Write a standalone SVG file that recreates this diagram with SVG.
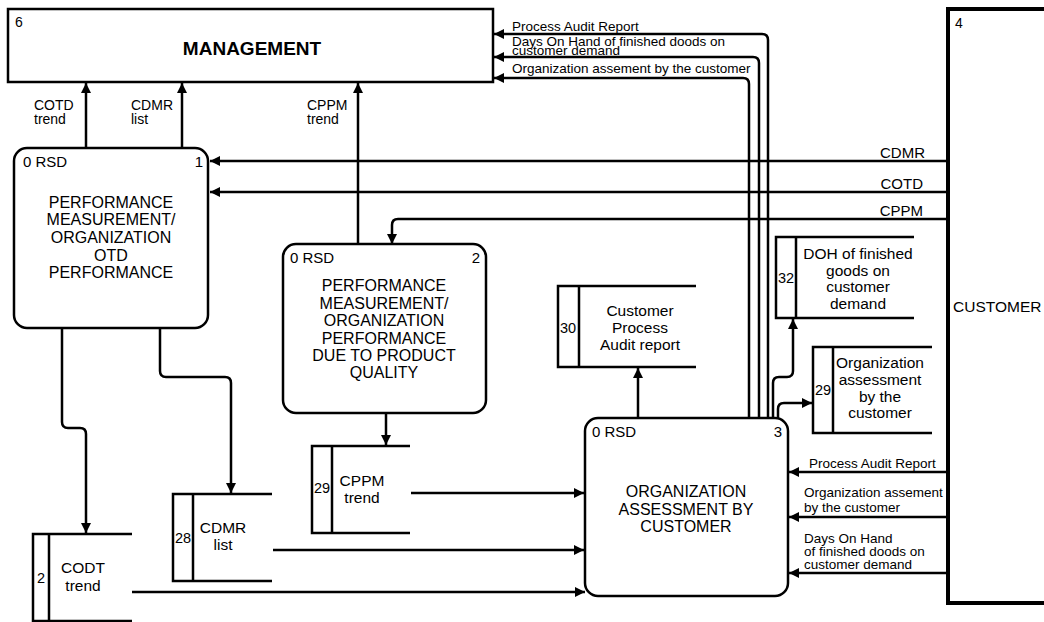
<svg xmlns="http://www.w3.org/2000/svg" width="1044" height="622" viewBox="0 0 1044 622">
<style>
text{font-family:"Liberation Sans",Arial,sans-serif;fill:#000}
.node{fill:#fff;stroke:#000;stroke-width:2.5}
.st{fill:none;stroke:#000;stroke-width:2.5}
.c{fill:none;stroke:#000;stroke-width:2.5;marker-end:url(#ah)}
.nt{font-size:16px;text-anchor:middle}
.dt{font-size:15.5px;text-anchor:middle}
.sm{font-size:15px}
.lb{font-size:13.5px}
.cl{font-size:14px}
.num{font-size:14.5px;text-anchor:middle}
</style>
<defs>
<marker id="ah" viewBox="0 0 10 10" refX="10" refY="5" markerWidth="11" markerHeight="10" markerUnits="userSpaceOnUse" orient="auto">
<path d="M0,0 L10,5 L0,10 z" fill="#000"/>
</marker>
</defs>
<rect width="1044" height="622" fill="#fff"/>

<g id="connectors">
<path class="c" d="M86,148 V83"/>
<path class="c" d="M182,148 V83"/>
<path class="c" d="M358,244 V83"/>
<path class="c" d="M947,161 H210"/>
<path class="c" d="M952,192 H210"/>
<path class="c" d="M947,219 H398 Q392,219 392,225 V244"/>
<path class="c" d="M62,328 V422 Q62,428 68,428 H80 Q86,428 86,434 V533"/>
<path class="c" d="M160,328 V371 Q160,377 166,377 H225 Q231,377 231,383 V493"/>
<path class="c" d="M386,414 V445"/>
<path class="c" d="M411,493 H584"/>
<path class="c" d="M273,550 H584"/>
<path class="c" d="M132,592 H585"/>
<path class="c" d="M638,418 V368"/>
<path class="c" d="M768,418 V40 Q768,34 762,34 H494"/>
<path class="c" d="M759,418 V63 Q759,57 753,57 H494"/>
<path class="c" d="M749,418 V84 Q749,78 743,78 H494"/>
<path class="c" d="M773,418 V383 Q773,377 779,377 H787 Q793,377 793,371 V319"/>
<path class="c" d="M778,418 V409 Q778,403 784,403 H812"/>
<path class="c" d="M947,472 H789"/>
<path class="c" d="M947,517 H789"/>
<path class="c" d="M947,573 H789"/>
<text class="cl" x="34" y="110">COTD</text>
<text class="cl" x="34" y="124">trend</text>
<text class="cl" x="131" y="110">CDMR</text>
<text class="cl" x="131" y="124">list</text>
<text class="cl" x="307" y="110">CPPM</text>
<text class="cl" x="307" y="124">trend</text>
<text class="sm" x="925" y="158" text-anchor="end">CDMR</text>
<text class="sm" x="923" y="189" text-anchor="end">COTD</text>
<text class="sm" x="923" y="216" text-anchor="end">CPPM</text>
<text class="lb" x="512" y="31">Process Audit Report</text>
<text class="lb" x="512" y="46">Days On Hand of finished doods on</text>
<text class="lb" x="512" y="55">customer demand</text>
<text class="lb" x="512" y="73">Organization assement by the customer</text>
<text class="lb" x="809" y="468">Process Audit Report</text>
<text class="lb" x="804" y="497">Organization assement</text>
<text class="lb" x="804" y="512"> by the customer</text>
<text class="lb" x="804" y="543">Days On Hand</text>
<text class="lb" x="804" y="556">of finished doods on</text>
<text class="lb" x="804" y="569">customer demand</text>
</g>

<g id="management">
<rect x="8" y="9" width="485" height="73" class="node"/>
<text x="15" y="27" font-size="14">6</text>
<text x="252" y="55" font-size="19" font-weight="bold" text-anchor="middle">MANAGEMENT</text>
</g>

<g id="customer">
<rect x="948" y="9" width="110" height="594" fill="#fff" stroke="#000" stroke-width="4"/>
<text x="955" y="28" font-size="14">4</text>
<text x="953" y="312" font-size="15.5">CUSTOMER</text>
</g>

<g id="node1">
<rect x="14" y="148" width="194" height="180" rx="13" class="node"/>
<text x="23" y="167" class="sm">0 RSD</text>
<text x="203" y="167" class="sm" text-anchor="end">1</text>
<text class="nt" x="111" y="208">PERFORMANCE</text>
<text class="nt" x="111" y="225">MEASUREMENT/</text>
<text class="nt" x="111" y="243">ORGANIZATION</text>
<text class="nt" x="111" y="261">OTD</text>
<text class="nt" x="111" y="278">PERFORMANCE</text>
</g>

<g id="node2">
<rect x="283" y="244" width="203" height="169" rx="13" class="node"/>
<text x="290" y="263" class="sm">0 RSD</text>
<text x="480" y="263" class="sm" text-anchor="end">2</text>
<text class="nt" x="384" y="291">PERFORMANCE</text>
<text class="nt" x="384" y="309">MEASUREMENT/</text>
<text class="nt" x="384" y="326">ORGANIZATION</text>
<text class="nt" x="384" y="344">PERFORMANCE</text>
<text class="nt" x="384" y="361">DUE TO PRODUCT</text>
<text class="nt" x="384" y="378">QUALITY</text>
</g>

<g id="node3">
<rect x="585" y="418" width="203" height="178" rx="13" class="node"/>
<text x="592" y="437" class="sm">0 RSD</text>
<text x="782" y="437" class="sm" text-anchor="end">3</text>
<text class="nt" x="686" y="497">ORGANIZATION</text>
<text class="nt" x="686" y="515">ASSESSMENT BY</text>
<text class="nt" x="686" y="532">CUSTOMER</text>
</g>

<g id="store2">
<path class="st" d="M132,534 H33 V621 H132 M49,534 V621"/>
<text class="num" x="41" y="583">2</text>
<text class="dt" x="83" y="573">CODT</text>
<text class="dt" x="83" y="591">trend</text>
</g>

<g id="store28">
<path class="st" d="M272,494 H173 V581 H272 M193,494 V581"/>
<text class="num" x="183" y="543">28</text>
<text class="dt" x="223" y="533">CDMR</text>
<text class="dt" x="223" y="550">list</text>
</g>

<g id="store29cppm">
<path class="st" d="M410,446 H312 V533 H410 M332,446 V533"/>
<text class="num" x="322" y="493">29</text>
<text class="dt" x="362" y="486">CPPM</text>
<text class="dt" x="362" y="503">trend</text>
</g>

<g id="store30">
<path class="st" d="M696,286 H558 V367 H696 M579,286 V367"/>
<text class="num" x="568" y="333">30</text>
<text class="dt" x="640" y="316">Customer</text>
<text class="dt" x="640" y="333">Process</text>
<text class="dt" x="640" y="350">Audit report</text>
</g>

<g id="store32">
<path class="st" d="M914,237 H776 V318 H914 M796,237 V318"/>
<text class="num" x="786" y="283">32</text>
<text class="dt" x="858" y="259">DOH of finished</text>
<text class="dt" x="858" y="276">goods on</text>
<text class="dt" x="858" y="292">customer</text>
<text class="dt" x="858" y="309">demand</text>
</g>

<g id="store29org">
<path class="st" d="M932,347 H813 V433 H932 M833,347 V433"/>
<text class="num" x="823" y="395">29</text>
<text class="dt" x="880" y="368">Organization</text>
<text class="dt" x="880" y="385">assessment</text>
<text class="dt" x="880" y="402">by the</text>
<text class="dt" x="880" y="418">customer</text>
</g>
</svg>
